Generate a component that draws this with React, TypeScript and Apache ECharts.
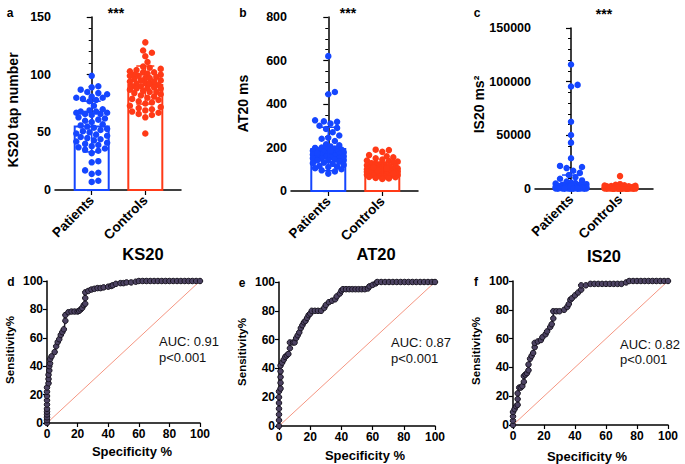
import React, { useEffect, useRef } from 'react';
import * as echarts from 'echarts';

// ---------- data ----------
const groups = ['Patients', 'Controls'];
const groupColors = ['#1546ff', '#ff3a17'];

const ks20Patients = [99, 90, 89, 87, 85, 84, 83, 81, 80, 80, 79, 78, 77, 73, 69, 68, 68, 67, 67, 66, 66, 65, 63, 62, 61, 59, 57, 56, 55, 54, 53, 52, 51, 50, 49, 48, 47, 46, 45, 44, 43, 42, 41, 40, 39, 38, 37, 36, 35, 34, 32, 25, 24, 17, 15, 14, 8, 7, 60, 70];
const ks20Controls = [128, 121, 119, 116, 111, 107, 106, 105, 104, 103, 102, 102, 101, 100, 100, 99, 98, 97, 97, 96, 95, 95, 94, 93, 92, 92, 91, 90, 90, 89, 88, 88, 87, 86, 85, 85, 84, 83, 82, 81, 80, 79, 78, 77, 76, 75, 73, 72, 71, 70, 69, 68, 67, 66, 65, 63, 49, 94, 99, 88];
const ks20Mean = [55, 91];
const ks20Sd = [22, 16.5];

const at20Patients = [620, 455, 445, 325, 320, 318, 310, 300, 290, 285, 270, 255, 245, 240, 230, 215, 210, 205, 200, 198, 195, 192, 190, 188, 185, 182, 180, 178, 175, 172, 170, 168, 165, 162, 160, 158, 155, 152, 150, 148, 145, 142, 140, 135, 130, 128, 125, 120, 115, 112, 110, 105, 100, 95, 90, 80, 140, 160, 175, 185];
const at20Controls = [190, 188, 180, 165, 160, 155, 150, 145, 140, 138, 135, 130, 128, 125, 122, 120, 118, 115, 112, 110, 108, 106, 105, 104, 102, 100, 99, 98, 96, 95, 94, 92, 90, 89, 88, 86, 85, 84, 82, 80, 78, 76, 75, 74, 72, 70, 68, 66, 65, 63, 60, 58, 55, 100, 95, 90, 110, 85, 80, 105];
const at20Mean = [193, 101];
const at20Sd = [100, 32];

const is20Patients = [116000, 97000, 95500, 62700, 50300, 43200, 28600, 21500, 20500, 19500, 17000, 15000, 13000, 11000, 9500, 8000, 7000, 6000, 5500, 5000, 4500, 4000, 3800, 3500, 3200, 3000, 2800, 2600, 2400, 2200, 2000, 1900, 1800, 1700, 1600, 1500, 1400, 1300, 1200, 1100, 1000, 900, 800, 700, 600, 500, 400, 300, 250, 200, 3000, 2500, 1500, 1000, 800, 600, 400, 350, 300, 200];
const is20Controls = [12000, 4500, 4000, 3500, 3000, 2800, 2500, 2200, 2000, 1800, 1600, 1500, 1400, 1300, 1200, 1100, 1000, 950, 900, 850, 800, 750, 700, 650, 600, 550, 500, 450, 400, 350, 300, 250, 200, 150, 100, 3200, 2600, 2100, 1700, 1250, 900, 600, 400, 250, 150];
const is20Mean = [13000, 1500];

const rocKS20 = [[0, 0], [0, 2], [0, 4], [0, 6], [0, 8], [0, 10], [0, 13], [0, 16], [0, 19], [0, 22], [0, 25], [1, 28], [1, 31], [1, 34], [1.5, 37], [1.5, 40], [2, 42], [2, 45], [3, 47], [5, 50], [6, 54], [7, 57], [8, 59], [9, 62], [10, 64], [11, 66], [12, 72], [12, 76], [14, 78], [16, 78.5], [18, 78.5], [20, 78.5], [21, 79], [22, 80], [23, 81], [24, 83], [25, 84], [25, 88], [25, 92], [27, 93], [29, 94], [31, 94.5], [33, 95], [35, 95], [37, 95.5], [40, 96], [42, 96.5], [43, 97], [45, 98], [48, 98.5], [50, 98.5], [52, 99], [55, 99], [58, 99.5], [60, 100], [62.5, 100], [65, 100], [67.5, 100], [70, 100], [72.5, 100], [75, 100], [77.5, 100], [80, 100], [82.5, 100], [85, 100], [87.5, 100], [90, 100], [92.5, 100], [95, 100], [97.5, 100], [100, 100]];
const rocAT20 = [[0, 0], [0, 4], [0, 8], [0, 12], [0, 16], [0, 20], [0, 24], [1, 26], [1, 30], [1, 34], [1, 38], [1, 42], [2, 44], [3, 46], [4, 48], [5, 49], [6, 50], [7, 54], [7, 58], [9, 58], [10, 58], [11, 61], [12, 63], [13, 65], [14, 68], [15, 70], [16, 72], [17, 73], [18, 75], [19, 77], [20, 78], [21, 80], [23, 80], [25, 80], [27, 80], [29, 82], [30, 84], [32, 86], [34, 87], [36, 88], [37, 90], [39, 92], [40, 94], [41, 95], [43, 95], [45, 95], [47, 95], [49, 95], [51, 95], [53, 95], [55, 95], [57, 95.5], [58, 97], [60, 98], [62, 99], [63, 100], [65.5, 100], [68, 100], [70.5, 100], [73, 100], [75.5, 100], [78, 100], [80.5, 100], [83, 100], [85.5, 100], [88, 100], [90.5, 100], [93, 100], [95.5, 100], [98, 100], [100, 100]];
const rocIS20 = [[0, 0], [0, 3], [0, 6], [0, 9], [1, 11], [2, 13], [3, 14], [3, 18], [3, 22], [4, 26], [5, 26], [6, 27], [7, 30], [7, 34], [8, 35], [9, 36], [10, 38], [10, 42], [11, 46], [12, 48], [13, 50], [14, 54], [14, 57], [16, 58], [18, 59], [19, 61], [21, 63], [22, 65], [24, 68], [25, 70], [26, 74], [26, 79], [28, 79], [30, 79], [33, 80], [35, 82], [36, 84], [37, 87], [38, 88], [40, 90], [42, 92], [44, 94], [44, 97], [47, 97], [50, 98], [52.5, 98], [55, 98], [57.5, 98], [60, 98], [62.5, 98], [65, 98], [67.5, 98], [70, 98], [73, 99], [75, 100], [77.5, 100], [80, 100], [82.5, 100], [85, 100], [87.5, 100], [90, 100], [92.5, 100], [95, 100], [97.5, 100], [100, 100]];
const diagonal = [[0, 0], [100, 100]];

const yTitles = ['KS20 tap number', 'AT20 ms', 'IS20 ms\u00b2'];
const rocTitles = ['KS20', 'AT20', 'IS20'];
const aucLabels = ['AUC: 0.91', 'AUC: 0.87', 'AUC: 0.82'];
const pLabel = 'p<0.001';
const sigLabel = '***';
const panelLetters = ['a', 'b', 'c', 'd', 'e', 'f'];
const xRocTitle = 'Specificity %';
const yRocTitle = 'Sensitivity%';

// ---------- layout ----------
const FONT = 'Liberation Sans, Arial, Helvetica, sans-serif';
const grids = [
  { left: 55, top: 17, width: 126, height: 173 },
  { left: 291, top: 17, width: 127, height: 174 },
  { left: 535, top: 28, width: 118, height: 161 },
  { left: 47, top: 281, width: 153, height: 142 },
  { left: 279, top: 282, width: 156, height: 144 },
  { left: 513, top: 281, width: 155, height: 144 },
];
const barX = [
  { min: -0.685, max: 1.666 },
  { min: -0.69, max: 1.661 },
  { min: -0.735, max: 1.673 },
];
const barY = [
  { max: 150, interval: 50, minor: 5 },
  { max: 800, interval: 200, minor: 4 },
  { max: 150000, interval: 50000, minor: 5 },
];

function swarm(values: number[], pxPerY: number, r: number, maxHalf: number): number[] {
  const idx = values.map((_, i) => i).sort((a, b) => values[a] - values[b]);
  const placed: { x: number; y: number }[] = [];
  const out: number[] = new Array(values.length).fill(0);
  const step = 2.2;
  const nSteps = Math.floor(maxHalf / step);
  for (const i of idx) {
    const y = values[i] * pxPerY;
    let best = 0;
    let bestScore = -Infinity;
    for (let k = 0; k <= 2 * nSteps; k++) {
      const off = (k % 2 === 1 ? 1 : -1) * Math.ceil(k / 2) * step;
      let minD = Infinity;
      for (const p of placed) {
        const d = Math.hypot(p.x - off, p.y - y);
        if (d < minD) minD = d;
      }
      if (minD >= 2 * r * 0.95) { best = off; break; }
      if (minD > bestScore) { bestScore = minD; best = off; }
    }
    placed.push({ x: best, y });
    out[i] = best;
  }
  return out;
}

export default function App() {
  const ref = useRef<HTMLDivElement>(null);
  useEffect(() => {
    if (!ref.current) return;
    const chart = echarts.init(ref.current, undefined, { renderer: 'svg' });

    const barData = [
      { sets: [ks20Patients, ks20Controls], mean: ks20Mean, sd: ks20Sd, bar: true },
      { sets: [at20Patients, at20Controls], mean: at20Mean, sd: at20Sd, bar: true },
      { sets: [is20Patients, is20Controls], mean: is20Mean, sd: null as number[] | null, bar: false },
    ];

    const xAxes: any[] = [];
    const yAxes: any[] = [];
    const series: any[] = [];
    const axisLine = { show: true, lineStyle: { color: '#000', width: 1.5 } };
    const labelStyle = { color: '#000', fontWeight: 'bold', fontSize: 12, fontFamily: FONT };

    barData.forEach((bd, gi) => {
      const g = grids[gi];
      xAxes.push({
        gridIndex: gi, type: 'value', min: barX[gi].min, max: barX[gi].max,
        axisLine, splitLine: { show: false },
        axisTick: { show: true, customValues: [0, 1], length: 5, lineStyle: { color: '#000', width: 1.2 } },
        axisLabel: {
          show: true, customValues: [0, 1], rotate: 45, margin: 8,
          formatter: (v: number) => groups[Math.round(v)] || '',
          color: '#000', fontWeight: 'bold', fontSize: 13.5, fontFamily: FONT,
        },
      });
      yAxes.push({
        gridIndex: gi, type: 'value', min: 0, max: barY[gi].max, interval: barY[gi].interval,
        axisLine, splitLine: { show: false },
        axisTick: { show: true, length: 5, lineStyle: { color: '#000', width: 1.2 } },
        minorTick: { show: true, splitNumber: barY[gi].minor, length: 3, lineStyle: { color: '#000', width: 1 } },
        axisLabel: { ...labelStyle, fontSize: 12.5, margin: 4, formatter: (v: number) => String(v) },
      });
      const pxPerX = g.width / (barX[gi].max - barX[gi].min);
      const pxPerY = g.height / barY[gi].max;
      const colors = groupColors;
      series.push({
        type: 'custom', xAxisIndex: gi, yAxisIndex: gi, z: 2, silent: true,
        data: bd.mean.map((m, i) => [i, m]), encode: { x: 0, y: 1 },
        renderItem: (params: any, api: any) => {
          if (!bd.bar) return { type: 'group', children: [] };
          const x = api.value(0), m = api.value(1);
          const base = api.coord([x, 0]);
          const top = api.coord([x, m]);
          return {
            type: 'rect',
            shape: { x: base[0] - 17, y: top[1], width: 34, height: base[1] - top[1] },
            style: { fill: '#fff', stroke: colors[params.dataIndex], lineWidth: 2 },
          };
        },
      });
      bd.sets.forEach((vals, si) => {
        const offs = swarm(vals, pxPerY, 3.2, 15.5);
        series.push({
          type: 'scatter', xAxisIndex: gi, yAxisIndex: gi, z: 3, symbolSize: 6.5,
          itemStyle: { color: colors[si], opacity: 1 },
          data: vals.map((v, i) => [si + offs[i] / pxPerX, v]),
        });
      });
      series.push({
        type: 'custom', xAxisIndex: gi, yAxisIndex: gi, z: 4, silent: true,
        data: bd.mean.map((m, i) => [i, m, bd.sd ? bd.sd[i] : 0]), encode: { x: 0, y: 1 },
        renderItem: (params: any, api: any) => {
          const x = api.value(0), m = api.value(1), s = api.value(2);
          const c = colors[params.dataIndex];
          const pm = api.coord([x, m]);
          const hw = 9;
          const st = { stroke: c, lineWidth: 1.5 };
          const children: any[] = [];
          if (!bd.bar) {
            children.push({ type: 'line', shape: { x1: pm[0] - hw, y1: pm[1], x2: pm[0] + hw, y2: pm[1] }, style: st });
          } else {
            const pu = api.coord([x, m + s]);
            const pl = api.coord([x, m - s]);
            children.push({ type: 'line', shape: { x1: pm[0], y1: pu[1], x2: pm[0], y2: pl[1] }, style: st });
            children.push({ type: 'line', shape: { x1: pm[0] - hw, y1: pu[1], x2: pm[0] + hw, y2: pu[1] }, style: st });
            children.push({ type: 'line', shape: { x1: pm[0] - hw, y1: pl[1], x2: pm[0] + hw, y2: pl[1] }, style: st });
          }
          return { type: 'group', children };
        },
      });
    });

    const rocs = [rocKS20, rocAT20, rocIS20];
    rocs.forEach((roc, k) => {
      const gi = k + 3;
      xAxes.push({
        gridIndex: gi, type: 'value', min: 0, max: 100, interval: 20,
        axisLine, splitLine: { show: false },
        axisTick: { show: true, length: 4, lineStyle: { color: '#000', width: 1.2 } },
        axisLabel: { ...labelStyle, margin: 5 },
      });
      yAxes.push({
        gridIndex: gi, type: 'value', min: 0, max: 100, interval: 20,
        axisLine, splitLine: { show: false },
        axisTick: { show: true, length: 4, lineStyle: { color: '#000', width: 1.2 } },
        axisLabel: { ...labelStyle, margin: 4 },
      });
      series.push({
        type: 'line', xAxisIndex: gi, yAxisIndex: gi, z: 1, silent: true,
        data: diagonal, symbol: 'none',
        lineStyle: { color: '#f59682', width: 1 },
      });
      series.push({
        type: 'line', xAxisIndex: gi, yAxisIndex: gi, z: 3, data: roc,
        symbol: 'circle', symbolSize: 5.5, showSymbol: true,
        lineStyle: { color: '#1d1829', width: 1.5 },
        itemStyle: { color: '#4d4363', borderColor: '#17131f', borderWidth: 1 },
      });
    });

    const txt = (x: number, y: number, text: string, size: number, bold: boolean, rot = 0, align = 'center', fill = '#000') => ({
      type: 'text', x, y, rotation: rot, z: 10, silent: true,
      style: {
        text, fontSize: size, fontWeight: bold ? 'bold' : 'normal', fontFamily: FONT,
        fill, align, verticalAlign: 'middle',
      },
    });

    const letterPos = [[10, 13], [243, 13], [477, 13], [11, 282], [242, 283], [476, 282]];
    const sigPos = [[116, 13], [348, 13], [604, 14]];
    const yTitlePos = [[13, 110], [243, 103.5], [479, 104.5]];
    const rocTitlePos = [[143, 254], [376, 254], [604, 256]];
    const sensPos = [[10, 350], [242, 352], [476, 351]];
    const specPos = [[132, 451], [365, 455], [587, 456]];
    const aucPos = [[159, 341, 357.5], [391, 342, 358], [620, 344, 359]];

    const graphic: any[] = [];
    panelLetters.forEach((l, i) => graphic.push(txt(letterPos[i][0], letterPos[i][1], l, 12, true)));
    sigPos.forEach((p) => graphic.push(txt(p[0], p[1], sigLabel, 14, true)));
    yTitles.forEach((t, i) => graphic.push(txt(yTitlePos[i][0], yTitlePos[i][1], t, 14, true, Math.PI / 2)));
    rocTitles.forEach((t, i) => graphic.push(txt(rocTitlePos[i][0], rocTitlePos[i][1], t, 16.5, true)));
    sensPos.forEach((p) => graphic.push(txt(p[0], p[1], yRocTitle, 11.5, true, Math.PI / 2)));
    specPos.forEach((p) => graphic.push(txt(p[0], p[1], xRocTitle, 13, true)));
    aucLabels.forEach((a, i) => {
      graphic.push(txt(aucPos[i][0], aucPos[i][1], a, 13, false, 0, 'left', '#111'));
      graphic.push(txt(aucPos[i][0], aucPos[i][2], pLabel, 13, false, 0, 'left', '#111'));
    });

    chart.setOption({
      animation: false,
      backgroundColor: '#fff',
      textStyle: { fontFamily: FONT },
      grid: grids.map((g) => ({ ...g, containLabel: false })),
      xAxis: xAxes,
      yAxis: yAxes,
      series,
      graphic,
    });
    return () => chart.dispose();
  }, []);
  return <div ref={ref} style={{ position: 'fixed', left: 0, top: 0, width: 685, height: 464, background: '#fff' }} />;
}
